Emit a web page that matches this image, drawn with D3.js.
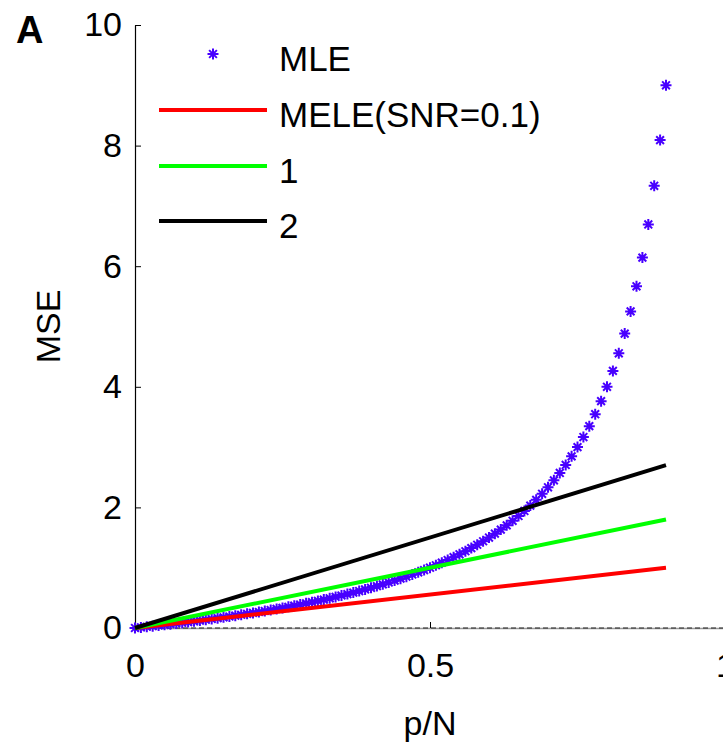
<!DOCTYPE html>
<html>
<head>
<meta charset="utf-8">
<script src="https://cdn.jsdelivr.net/npm/d3@7"></script>
<style>
  body { margin: 0; background: #fff; }
  svg { display: block; }
  text { font-family: "Liberation Sans", Arial, sans-serif; fill: #000; }
</style>
</head>
<body>
<div id="my_dataviz"></div>
<script>
// p/N values for the MLE stars
var mle_x = [0.00,0.01,0.02,0.03,0.04,0.05,0.06,0.07,0.08,0.09,
  0.10,0.11,0.12,0.13,0.14,0.15,0.16,0.17,0.18,0.19,
  0.20,0.21,0.22,0.23,0.24,0.25,0.26,0.27,0.28,0.29,
  0.30,0.31,0.32,0.33,0.34,0.35,0.36,0.37,0.38,0.39,
  0.40,0.41,0.42,0.43,0.44,0.45,0.46,0.47,0.48,0.49,
  0.50,0.51,0.52,0.53,0.54,0.55,0.56,0.57,0.58,0.59,
  0.60,0.61,0.62,0.63,0.64,0.65,0.66,0.67,0.68,0.69,
  0.70,0.71,0.72,0.73,0.74,0.75,0.76,0.77,0.78,0.79,
  0.80,0.81,0.82,0.83,0.84,0.85,0.86,0.87,0.88,0.89,0.90];
// MSE of the MLE
var mle_y = [0,0.0101,0.0204,0.0309,0.0417,0.0526,0.0638,0.0753,0.0870,0.0989,
  0.1111,0.1236,0.1364,0.1494,0.1628,0.1765,0.1905,0.2048,0.2195,0.2346,
  0.25,0.2658,0.2821,0.2987,0.3158,0.3333,0.3514,0.3699,0.3889,0.4085,
  0.4286,0.4493,0.4706,0.4925,0.5152,0.5385,0.5625,0.5873,0.6129,0.6393,
  0.6667,0.6949,0.7241,0.7544,0.7857,0.8182,0.8519,0.8868,0.9231,0.9608,
  1.0,1.0408,1.0833,1.1277,1.1739,1.2222,1.2727,1.3256,1.3810,1.4390,
  1.5,1.5641,1.6316,1.7027,1.7778,1.8571,1.9412,2.0303,2.125,2.2258,
  2.3333,2.4483,2.5714,2.7037,2.8462,3.0,3.1667,3.3478,3.5455,3.7619,
  4.0,4.2632,4.5556,4.8824,5.25,5.6667,6.1429,6.6923,7.3333,8.0909,9.0];

// MELE lines, one per SNR
var mele_x = [0, 0.9];
var mele_snr01 = [0, 1.0];
var mele_snr1 = [0, 1.8];
var mele_snr2 = [0, 2.7];

var legend_labels = ["MLE", "MELE(SNR=0.1)", "1", "2"];
var x_ticks = [0, 0.5, 1];
var y_ticks = [0, 2, 4, 6, 8, 10];

var width = 723, height = 743;

var svg = d3.select("#my_dataviz")
  .append("svg")
    .attr("width", width)
    .attr("height", height);

var x = d3.scaleLinear().domain([0, 1]).range([135, 725]);
var y = d3.scaleLinear().domain([0, 10]).range([628, 25]);

// y axis, ticks pointing inward
var gy = svg.append("g")
    .attr("transform", "translate(" + x(0) + ",0)")
    .call(d3.axisLeft(y).tickValues(y_ticks).tickSize(-6).tickPadding(13).tickSizeOuter(0));
gy.select(".domain").attr("stroke", "#000").attr("stroke-width", 1.2);
gy.selectAll(".tick line").attr("stroke", "#000");
gy.selectAll(".tick text").style("font-size", "34px").style("font-family", "Liberation Sans, Arial, sans-serif");

// x axis
var gx = svg.append("g")
    .attr("transform", "translate(0," + y(0) + ")")
    .call(d3.axisBottom(x).tickValues(x_ticks).tickFormat(d3.format("")).tickSize(-6).tickPadding(25).tickSizeOuter(0));
gx.select(".domain").attr("stroke", "#999").attr("stroke-width", 1.5);
gx.selectAll(".tick line").attr("stroke", "#000");
gx.selectAll(".tick text").style("font-size", "34px").style("font-family", "Liberation Sans, Arial, sans-serif");

// dashed zero line on top of x axis
svg.append("line")
  .attr("x1", x(0)).attr("x2", x(1))
  .attr("y1", y(0)).attr("y2", y(0))
  .attr("stroke", "#222")
  .attr("stroke-width", 1.2)
  .attr("stroke-dasharray", "5,3");

// star marker path (matlab '*')
function star(cx, cy, r) {
  var d = "";
  var k = r * 0.7071;
  d += "M" + (cx - r) + "," + cy + "L" + (cx + r) + "," + cy;
  d += "M" + cx + "," + (cy - r) + "L" + cx + "," + (cy + r);
  d += "M" + (cx - k) + "," + (cy - k) + "L" + (cx + k) + "," + (cy + k);
  d += "M" + (cx - k) + "," + (cy + k) + "L" + (cx + k) + "," + (cy - k);
  return d;
}

var star_color = "#4800ff";

var mle_data = mle_x.map(function (d, i) { return {x: d, y: mle_y[i]}; });

svg.append("g")
  .selectAll("path")
  .data(mle_data)
  .enter()
  .append("path")
    .attr("d", function (d) { return star(x(d.x), y(d.y), 5.5); })
    .attr("stroke", star_color)
    .attr("stroke-width", 2)
    .attr("fill", "none");

var line = d3.line()
  .x(function (d) { return x(d.x); })
  .y(function (d) { return y(d.y); });

var series = [
  {vals: mele_snr01, color: "#ff0000"},
  {vals: mele_snr1, color: "#00ff00"},
  {vals: mele_snr2, color: "#000000"}
];

series.forEach(function (s) {
  svg.append("path")
    .datum(mele_x.map(function (d, i) { return {x: d, y: s.vals[i]}; }))
    .attr("d", line)
    .attr("fill", "none")
    .attr("stroke", s.color)
    .attr("stroke-width", 4);
});

// legend
var leg_y = [54, 110, 166, 221];
var lg = svg.append("g");
lg.append("path")
  .attr("d", star(213, leg_y[0], 5.5))
  .attr("stroke", star_color)
  .attr("stroke-width", 2)
  .attr("fill", "none");
series.forEach(function (s, i) {
  lg.append("line")
    .attr("x1", 159).attr("x2", 267)
    .attr("y1", leg_y[i + 1]).attr("y2", leg_y[i + 1])
    .attr("stroke", s.color)
    .attr("stroke-width", 4);
});
lg.selectAll("text")
  .data(legend_labels)
  .enter()
  .append("text")
    .attr("x", 279)
    .attr("y", function (d, i) { return leg_y[i] + 17; })
    .style("font-size", "35px")
    .text(function (d) { return d; });

// axis labels
svg.append("text")
  .attr("x", x(0.5))
  .attr("y", 735)
  .style("text-anchor", "middle")
  .style("font-size", "34px")
  .text("p/N");

svg.append("text")
  .attr("transform", "translate(60," + y(5) + ") rotate(-90)")
  .style("text-anchor", "middle")
  .style("font-size", "34px")
  .text("MSE");

// panel letter
svg.append("text")
  .attr("x", 16)
  .attr("y", 43)
  .style("font-size", "38px")
  .style("font-weight", "bold")
  .text("A");
</script>
</body>
</html>
